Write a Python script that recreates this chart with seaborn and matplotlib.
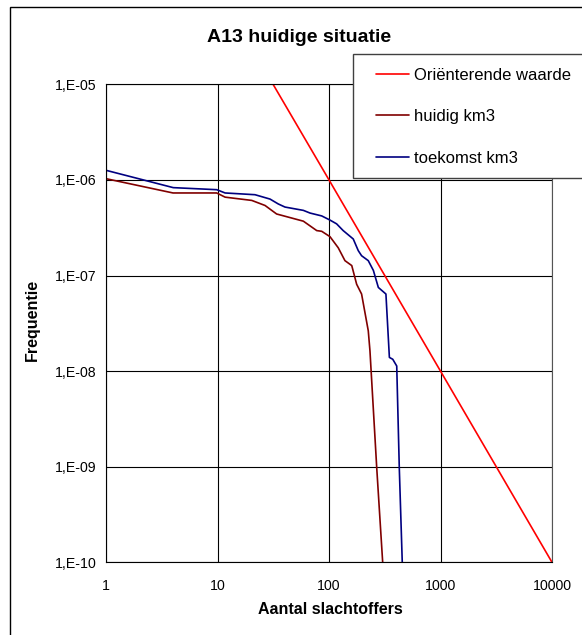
import numpy as np
import pandas as pd
import matplotlib
matplotlib.use("Agg")
import matplotlib.pyplot as plt
from matplotlib.patches import Rectangle
from matplotlib.ticker import FixedLocator, FixedFormatter, NullLocator
import seaborn as sns

# ---- data ----
orient_N = [31.5, 100, 1000, 10000]
orient_F = [1e-5, 1e-6, 1e-8, 1e-10]

huidig_N = [1, 3.99, 9.84, 11.7, 20.3, 26.7, 33.9, 58.9, 77.6, 86, 102, 121, 139, 160,
            177, 196, 225, 233, 268, 303]
huidig_F = [1.03e-6, 7.3e-7, 7.3e-7, 6.6e-7, 6.1e-7, 5.4e-7, 4.4e-7, 3.7e-7, 2.95e-7,
            2.9e-7, 2.55e-7, 1.95e-7, 1.43e-7, 1.27e-7, 8.1e-8, 6.4e-8, 2.64e-8,
            1.63e-8, 9.7e-10, 1e-10]

toekomst_N = [1, 4.01, 9.84, 11.7, 21.7, 29.6, 35.1, 40.3, 58.9, 67.6, 86, 102, 117,
              134, 165, 183, 196, 225, 250, 277, 324, 348, 373, 405, 427, 454]
toekomst_F = [1.26e-6, 8.3e-7, 7.9e-7, 7.3e-7, 7.0e-7, 6.3e-7, 5.6e-7, 5.2e-7, 4.8e-7,
              4.5e-7, 4.2e-7, 3.8e-7, 3.47e-7, 2.95e-7, 2.41e-7, 1.82e-7, 1.61e-7,
              1.43e-7, 1.13e-7, 7.5e-8, 6.4e-8, 1.39e-8, 1.33e-8, 1.13e-8, 9.7e-10, 1e-10]

series_names = ["Oriënterende waarde", "huidig km3", "toekomst km3"]
series_colors = ["#FF0000", "#800000", "#000080"]

x_ticks = [1, 10, 100, 1000, 10000]
x_labels = ["1", "10", "100", "1000", "10000"]
y_ticks = [1e-10, 1e-9, 1e-8, 1e-7, 1e-6, 1e-5]
y_labels = ["1,E-10", "1,E-09", "1,E-08", "1,E-07", "1,E-06", "1,E-05"]

frames = []
for name, xs, ys in zip(series_names,
                        [orient_N, huidig_N, toekomst_N],
                        [orient_F, huidig_F, toekomst_F]):
    frames.append(pd.DataFrame({"N": xs, "F": ys, "series": name}))
df = pd.concat(frames, ignore_index=True)

# ---- figure ----
sns.set_theme(style="white")
plt.rcParams["font.family"] = ["Liberation Sans", "DejaVu Sans"]

W, H = 582, 635
fig = plt.figure(figsize=(W / 100, H / 100), dpi=100)
fig.patch.set_facecolor("white")

def fx(px):
    return px / W

def fy(py):
    return 1 - py / H

left, right, top, bottom = 106, 552, 84.3, 562.3
ax = fig.add_axes([fx(left), fy(bottom), fx(right) - fx(left), fy(top) - fy(bottom)])

sns.lineplot(data=df, x="N", y="F", hue="series", hue_order=series_names,
             palette=series_colors, estimator=None, sort=False, linewidth=1.2,
             ax=ax, legend=True)

ax.set_xscale("log")
ax.set_yscale("log")
ax.set_xlim(1, 10000)
ax.set_ylim(1e-10, 1e-5)

ax.xaxis.set_major_locator(FixedLocator(x_ticks))
ax.xaxis.set_major_formatter(FixedFormatter(x_labels))
ax.yaxis.set_major_locator(FixedLocator(y_ticks))
ax.yaxis.set_major_formatter(FixedFormatter(y_labels))
ax.xaxis.set_minor_locator(NullLocator())
ax.yaxis.set_minor_locator(NullLocator())

ax.grid(True, which="major", color="black", linewidth=0.8)
for s in ax.spines.values():
    s.set_color("black")
    s.set_linewidth(0.8)
ax.spines["right"].set_color("#555555")

ax.tick_params(axis="both", which="major", direction="out", length=4, width=0.8,
               color="black", labelsize=10.2, labelcolor="black", pad=3)
ax.tick_params(axis="x", pad=8)
ax.set_xlabel("")
ax.set_ylabel("")

# outer chart frame
fig.patches.append(Rectangle((fx(10), fy(700)), fx(600) - fx(10), fy(7) - fy(700),
                             transform=fig.transFigure, fill=False,
                             edgecolor="black", linewidth=1.0, zorder=0))

# title and axis labels
fig.text(fx(299), fy(37), "A13 huidige situatie", ha="center", va="center",
         fontsize=14, fontweight="bold", color="black")
fig.text(fx(330), fy(609), "Aantal slachtoffers", ha="center", va="center",
         fontsize=11.5, fontweight="bold", color="black")
fig.text(fx(32), fy(320), "Frequentie", ha="center", va="center", rotation=90,
         fontsize=11.5, fontweight="bold", color="black")

# legend box (extends past right edge like the reference)
fig.patches.append(Rectangle((fx(353), fy(178)), fx(640) - fx(353), fy(54) - fy(178),
                             transform=fig.transFigure, facecolor="white",
                             edgecolor="#404040", linewidth=1.0, zorder=5))
handles, labels = ax.get_legend_handles_labels()
ax.get_legend().remove()
leg = fig.legend(handles, labels, loc="upper left",
                 bbox_to_anchor=(fx(376), fy(67.5)), bbox_transform=fig.transFigure,
                 frameon=False, fontsize=12, handlelength=2.0, handletextpad=0.25,
                 labelspacing=1.6, borderaxespad=0, borderpad=0)
leg.set_zorder(6)
for t in leg.get_texts():
    t.set_color("black")

fig.savefig("out.png", dpi=100, facecolor="white")
